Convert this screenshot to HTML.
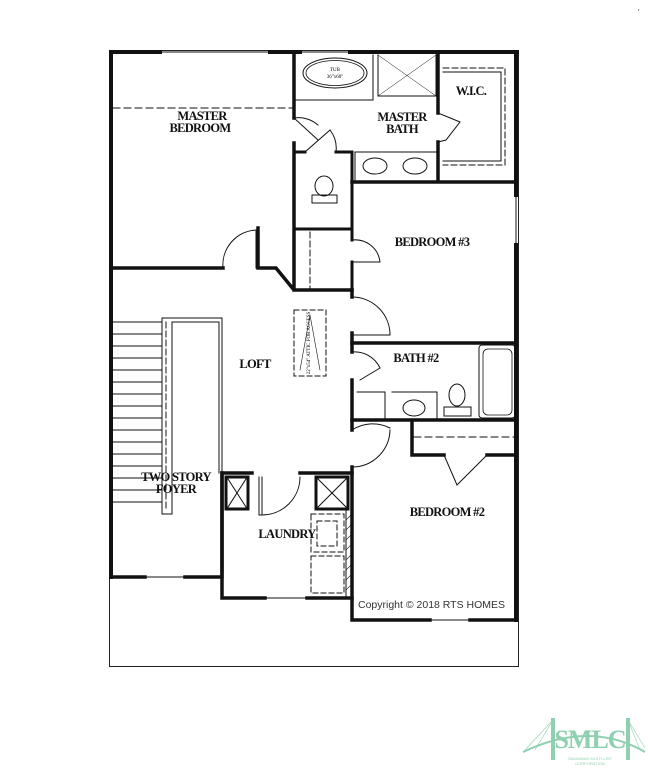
<!DOCTYPE html>
<html><head><meta charset="utf-8"><style>
html,body{margin:0;padding:0;background:#fff;width:648px;height:768px;overflow:hidden}
svg{display:block}
.t{font-family:"Liberation Serif",serif;font-size:12.5px;fill:#111;letter-spacing:-0.7px;font-weight:bold}
</style></head><body>
<svg width="648" height="768" viewBox="0 0 648 768" xmlns="http://www.w3.org/2000/svg">
<rect x="109.5" y="50.5" width="409" height="616" fill="none" stroke="#222" stroke-width="1"/>
<g stroke="#111" fill="none" stroke-linecap="square">
<path d="M111 52 H160 M270 52 H300 M350 52 H517 M111 52 V577 M516 52 V195 M516 245 V620" stroke-width="4"/>
<path d="M160 52 H270 M300 52 H350 M516 195 V245" stroke-width="1"/>
<path d="M111 268 H223 M258 228 V268 L276 268 L294 290 H352 M294 52 V118 M294 143 V290" stroke-width="3.5"/>
<path d="M113 108 H294" stroke-width="1" stroke-dasharray="7,4"/>
<path d="M223 268 A35 35 0 0 1 256 230 M256 230 V268" stroke-width="1"/>
<path d="M294 152 H305 M336 152 H352 V182 M352 182 V229 H294 M352 229 V240 M352 262 V290" stroke-width="3"/>
<path d="M294 118 L318 140 M294 118 A30 30 0 0 1 318 125 M305 152 L330 130 M336 152 A30 30 0 0 0 330 130" stroke-width="1"/>
<rect x="312" y="195" width="25" height="8" stroke-width="1"/>
<ellipse cx="324" cy="186" rx="9" ry="10" stroke-width="1"/>
<path d="M310 232 V288" stroke-width="1" stroke-dasharray="6,3"/>
<path d="M352 240 A25 25 0 0 1 380 262 H352" stroke-width="1"/>
<path d="M352 182 H516 M438 52 V113 M438 142 V182" stroke-width="3.5"/>
<path d="M294 100 H373 M373 55 V100 M378 55 V96 H436 V55" stroke-width="1"/>
<path d="M378 55 L436 96 M436 55 L378 96" stroke-width="0.5"/>
<ellipse cx="335" cy="73" rx="32" ry="15" stroke-width="1"/>
<ellipse cx="335" cy="73" rx="29" ry="12.5" stroke-width="0.8"/>
<path d="M355 152 H437 M355 152 V180" stroke-width="1"/>
<ellipse cx="375" cy="166" rx="12" ry="8" stroke-width="1"/>
<ellipse cx="415" cy="166" rx="12" ry="8" stroke-width="1"/>
<path d="M438 113 L460 122 L446 140 L438 142" stroke-width="1"/>
<path d="M443 68 H505 V165 H443" stroke-width="1" stroke-dasharray="6,3"/>
<path d="M443 72 H501 V161 H443" stroke-width="1"/>
<path d="M352 290 V297 M352 333 V352" stroke-width="3.5"/>
<path d="M352 297 A38 38 0 0 1 390 335 H352" stroke-width="1"/>
<path d="M352 343 H516 M352 380 V420 H516" stroke-width="3.5"/>
<path d="M352 352 A28 28 0 0 1 380 368 M360 380 L380 368" stroke-width="1"/>
<path d="M357 392 H385 V420 M392 392 H437 V420" stroke-width="1"/>
<ellipse cx="414" cy="408" rx="11" ry="8" stroke-width="1"/>
<rect x="444" y="407" width="27" height="9" stroke-width="1"/>
<ellipse cx="457" cy="395" rx="8" ry="11" stroke-width="1"/>
<rect x="479" y="345" width="36" height="73" rx="3" stroke-width="1"/>
<rect x="483" y="349" width="29" height="66" rx="5" stroke-width="0.8"/>
<path d="M352 420 V430 M352 467 V620 H430 M470 620 H516 M412 422 V455 H444 M487 455 H516" stroke-width="3.5"/>
<path d="M430 620 H470" stroke-width="1"/>
<path d="M352 430 A38 38 0 0 1 390 428 M352 467 A38 38 0 0 0 390 430" stroke-width="1"/>
<path d="M414 437 H514" stroke-width="1" stroke-dasharray="7,4"/>
<path d="M444 455 L457 485 L487 455" stroke-width="1"/>
<path d="M222 473 V598 H265 M307 598 H352 M222 473 H252 M300 473 H352" stroke-width="3.5"/>
<path d="M265 598 H307" stroke-width="1"/>
<rect x="226" y="477" width="22" height="32" stroke-width="3"/>
<path d="M228 479 L246 507 M246 479 L228 507" stroke-width="1"/>
<rect x="316" y="477" width="32" height="32" stroke-width="3"/>
<path d="M318 479 L346 507 M346 479 L318 507" stroke-width="1"/>
<path d="M259 477 V515 H262 V477 M262 515 A38 38 0 0 0 300 477" stroke-width="1"/>
<rect x="311" y="514" width="33" height="38" stroke-width="1" stroke-dasharray="5,3"/>
<rect x="317" y="521" width="20" height="25" stroke-width="1" stroke-dasharray="5,3"/>
<rect x="311" y="556" width="33" height="37" stroke-width="1" stroke-dasharray="5,3"/>
<path d="M346 510 V596 M352 510 V596" stroke-width="1"/>
<path d="M346 520 L352 514 M346 530 L352 524 M346 540 L352 534 M346 550 L352 544 M346 560 L352 554 M346 570 L352 564 M346 580 L352 574 M346 590 L352 584" stroke-width="0.6"/>
<path d="M111 577 H145 M185 577 H222 M222 473 V577" stroke-width="3.5"/>
<path d="M145 577 H185" stroke-width="1"/>
<path d="M162 318 H222 M162 318 V514 H172 V322 H219 V473 M222 318 V473" stroke-width="1"/>
<path d="M166 322 V510" stroke-width="1" stroke-dasharray="6,3"/>
<path d="M113 322 H162 M113 334 H162 M113 346 H162 M113 358 H162 M113 370 H162 M113 382 H162 M113 394 H162 M113 406 H162 M113 418 H162 M113 430 H162 M113 442 H162 M113 454 H162 M113 466 H162 M113 478 H162 M113 490 H162 M113 502 H162" stroke-width="1"/>
<rect x="294" y="310" width="32" height="66" stroke-width="1" stroke-dasharray="5,3"/>
<path d="M310 315 L300 370 M310 315 L320 370" stroke-width="0.6"/>
</g>
<text class="t" x="202" y="120" text-anchor="middle">MASTER</text>
<text class="t" x="200" y="132" text-anchor="middle">BEDROOM</text>
<text class="t" x="402" y="121" text-anchor="middle">MASTER</text>
<text class="t" x="402" y="133" text-anchor="middle">BATH</text>
<text class="t" x="471" y="95" text-anchor="middle">W.I.C.</text>
<text class="t" x="432" y="246" text-anchor="middle">BEDROOM #3</text>
<text class="t" x="416" y="362" text-anchor="middle">BATH #2</text>
<text class="t" x="255" y="368" text-anchor="middle">LOFT</text>
<text class="t" x="176" y="481" text-anchor="middle">TWO STORY</text>
<text class="t" x="176" y="493" text-anchor="middle">FOYER</text>
<text class="t" x="287" y="538" text-anchor="middle">LAUNDRY</text>
<text class="t" x="447" y="516" text-anchor="middle">BEDROOM #2</text>
<text x="335" y="71" font-family="Liberation Serif,serif" font-size="5" text-anchor="middle">TUB</text>
<text x="335" y="78" font-family="Liberation Serif,serif" font-size="5" text-anchor="middle">36"x60"</text>
<text x="310" y="343" font-family="Liberation Serif,serif" font-size="5" text-anchor="middle" transform="rotate(-90 310 343)">22"x54" ATTIC FOR ACCESS</text>
<text x="358" y="608" font-family="Liberation Sans,sans-serif" font-size="10.5" fill="#333">Copyright © 2018 RTS HOMES</text>
<g stroke="#8fd0b0" fill="none">
<path d="M553 718 V760 M628 718 V760" stroke-width="4"/>
<path d="M523 752 Q590 720 645 752" stroke-width="2"/>
<path d="M553 720 L525 750 M553 720 L535 750 M628 720 L645 748 M628 720 L640 750" stroke-width="0.6"/>
</g>
<text x="590" y="748" font-family="Liberation Serif,serif" font-size="26" font-weight="bold" fill="#8fd0b0" text-anchor="middle" letter-spacing="-1">SMLC</text>
<text x="590" y="760" font-family="Liberation Sans,sans-serif" font-size="4" fill="#8fd0b0" text-anchor="middle">SAVANNAH MULTI-LIST</text>
<text x="590" y="765" font-family="Liberation Sans,sans-serif" font-size="4" fill="#8fd0b0" text-anchor="middle">CORPORATION</text>
<text x="638" y="15" font-family="Liberation Sans,sans-serif" font-size="8" fill="#333">'</text>
</svg>
</body></html>
